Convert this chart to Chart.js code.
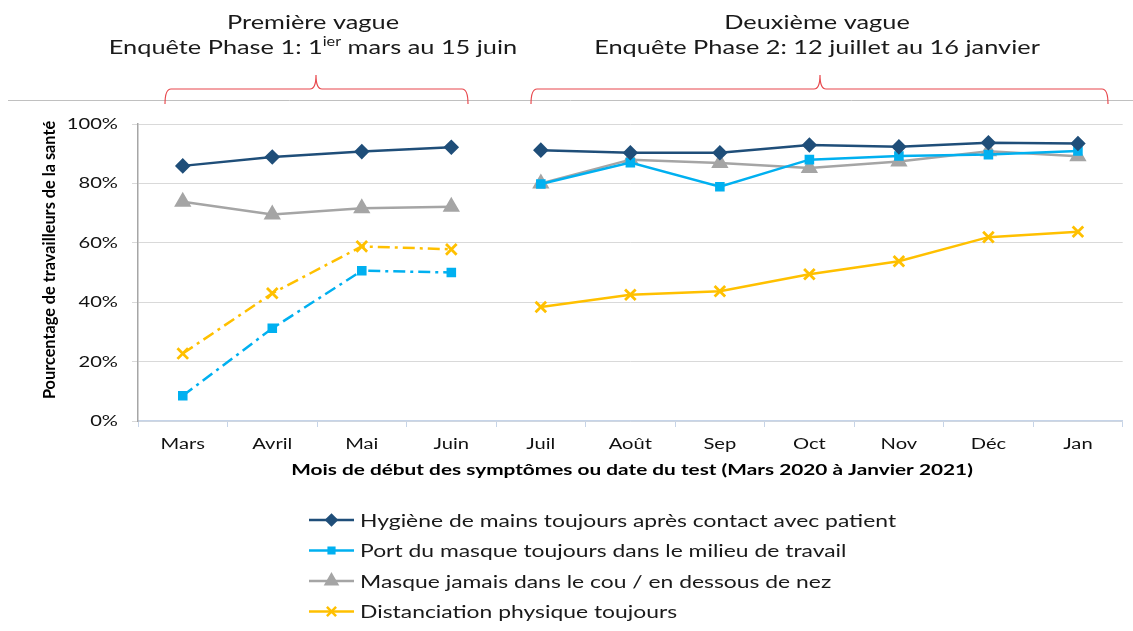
<!DOCTYPE html>
<html>
<head>
<meta charset="utf-8">
<script src="https://cdn.jsdelivr.net/npm/chart.js@4.4.1/dist/chart.umd.min.js"></script>
<style>
  html, body { margin: 0; padding: 0; background: #fff; }
  #wrap { width: 1133px; height: 631px; }
</style>
</head>
<body>
<div id="wrap"><canvas id="chart" width="1133" height="631"></canvas></div>
<script>
// Mois (mars 2020 a janvier 2021)
const months = ['Mars', 'Avril', 'Mai', 'Juin', 'Juil', 'Août', 'Sep', 'Oct', 'Nov', 'Déc', 'Jan'];

// Valeurs en %
const hygiene = [85.9, 88.9, 90.7, 92.2, 91.2, 90.3, 90.3, 92.9, 92.3, 93.7, 93.4];
const masqueTravail = [8.5, 31.2, 50.6, 50.0, 79.8, 87.0, 78.9, 88.0, 89.2, 89.7, 90.9];
const masqueCou = [73.8, 69.5, 71.6, 72.1, 80.0, 88.0, 86.9, 85.2, 87.4, 90.8, 89.1];
const distanciation = [22.7, 43.0, 58.8, 57.8, 38.4, 42.5, 43.7, 49.4, 53.8, 61.9, 63.7];

const seriesLabels = [
    'Hygiène de mains toujours après contact avec patient',
    'Port du masque toujours dans le milieu de travail',
    'Masque jamais dans le cou / en dessous de nez',
    'Distanciation physique toujours'
];
const yTicks = [0, 20, 40, 60, 80, 100];

const LAST_PHASE1 = 3; // index de Juin
const FONT = 'Lato, "Open Sans", sans-serif';
const SX = 1.3; // le texte de l'original est étiré en largeur
const DASH_DOT = [12, 5, 3, 5];

// segment: pas de ligne entre Juin et Juil, tirets en phase 1 si demandé
function segStyle(dashedPhase1) {
    return {
        borderColor: ctx => ctx.p0DataIndex === LAST_PHASE1 ? 'rgba(0,0,0,0)' : undefined,
        borderDash: ctx => (dashedPhase1 && ctx.p0DataIndex < LAST_PHASE1) ? DASH_DOT : undefined
    };
}

const datasets = [
    { label: seriesLabels[0], data: hygiene, borderColor: '#1F4E79', backgroundColor: '#1F4E79',
      pointStyle: 'rectRot', pointRadius: 6, borderWidth: 2.5, segment: segStyle(false) },
    { label: seriesLabels[1], data: masqueTravail, borderColor: '#00B0F0', backgroundColor: '#00B0F0',
      pointStyle: 'rect', pointRadius: 5, borderWidth: 2.5, segment: segStyle(true) },
    { label: seriesLabels[2], data: masqueCou, borderColor: '#A5A5A5', backgroundColor: '#A5A5A5',
      pointStyle: 'triangle', pointRadius: 7.5, borderWidth: 2.5, segment: segStyle(false) },
    { label: seriesLabels[3], data: distanciation, borderColor: '#FFC000', backgroundColor: '#FFC000',
      pointStyle: 'crossRot', pointRadius: 7.5, pointBorderWidth: 2.8, borderWidth: 2.5, segment: segStyle(true) }
];

// texte étiré horizontalement
function wideText(ctx, text, x, y, align) {
    const w = ctx.measureText(text).width * SX;
    let left = x;
    if (align === 'center') left = x - w / 2;
    else if (align === 'right') left = x - w;
    ctx.save();
    ctx.textAlign = 'left';
    ctx.translate(left, y);
    ctx.scale(SX, 1);
    ctx.fillText(text, 0, 0);
    ctx.restore();
    return w;
}

function drawBrace(ctx, x1, x2, tipX, yEnd, yMid, yTip) {
    const r = 6;
    ctx.beginPath();
    ctx.moveTo(x1, yEnd);
    ctx.quadraticCurveTo(x1, yMid, x1 + r, yMid);
    ctx.lineTo(tipX - r, yMid);
    ctx.quadraticCurveTo(tipX, yMid, tipX, yTip);
    ctx.quadraticCurveTo(tipX, yMid, tipX + r, yMid);
    ctx.lineTo(x2 - r, yMid);
    ctx.quadraticCurveTo(x2, yMid, x2, yEnd);
    ctx.stroke();
}

function drawPhaseTitle(ctx, cx, line1, before, sup, after) {
    const big = '19.5px ' + FONT, small = '12.5px ' + FONT;
    ctx.fillStyle = '#1a1a1a';
    ctx.textBaseline = 'alphabetic';
    ctx.font = big;
    wideText(ctx, line1, cx, 29, 'center');
    const wB = ctx.measureText(before).width * SX;
    const wA = ctx.measureText(after).width * SX;
    ctx.font = small;
    const wS = sup ? ctx.measureText(sup).width * SX : 0;
    let x = cx - (wB + wS + wA) / 2;
    ctx.font = big;
    x += wideText(ctx, before, x, 54, 'left');
    if (sup) {
        ctx.font = small;
        x += wideText(ctx, sup, x, 46, 'left');
    }
    ctx.font = big;
    wideText(ctx, after, x, 54, 'left');
}

const decorPlugin = {
    id: 'decor',
    afterDraw(chart) {
        const ctx = chart.ctx;
        const xs = chart.scales.x, ys = chart.scales.y;
        ctx.save();

        // titres des deux vagues
        drawPhaseTitle(ctx, 313, 'Première vague', 'Enquête Phase 1: 1', 'ier', ' mars au 15 juin');
        drawPhaseTitle(ctx, 817, 'Deuxième vague', 'Enquête Phase 2: 12 juillet au 16 janvier', '', '');

        // ligne grise
        ctx.strokeStyle = '#C0C0C0';
        ctx.lineWidth = 1;
        ctx.beginPath();
        ctx.moveTo(8, 100.5);
        ctx.lineTo(1133, 100.5);
        ctx.stroke();

        // accolades rouges
        ctx.strokeStyle = '#E8474C';
        ctx.lineWidth = 1.2;
        drawBrace(ctx, 165, 468, 316, 104, 89, 75);
        drawBrace(ctx, 531, 1108, 820, 104, 89, 75);

        // étiquettes des axes
        ctx.fillStyle = '#111';
        ctx.textBaseline = 'middle';
        ctx.font = '15.5px ' + FONT;
        xs.ticks.forEach((t, i) => {
            wideText(ctx, xs.getLabelForValue(t.value), xs.getPixelForTick(i), 444, 'center');
        });
        ys.ticks.forEach(t => {
            wideText(ctx, t.value + '%', 118, ys.getPixelForValue(t.value), 'right');
        });

        // titres des axes
        ctx.fillStyle = '#000';
        ctx.font = 'bold 16.3px ' + FONT;
        ctx.textAlign = 'center';
        ctx.save();
        ctx.translate(50, 260);
        ctx.rotate(-Math.PI / 2);
        ctx.fillText('Pourcentage de travailleurs de la santé', 0, 0);
        ctx.restore();
        ctx.font = 'bold 16px ' + FONT;
        wideText(ctx, 'Mois de début des symptômes ou date du test (Mars 2020 à Janvier 2021)', 632, 470, 'center');

        // légende
        ctx.font = '17.6px ' + FONT;
        chart.data.datasets.forEach((ds, i) => {
            const y = 520 + i * 30.5;
            ctx.strokeStyle = ds.borderColor;
            ctx.fillStyle = ds.backgroundColor;
            ctx.lineWidth = 2.5;
            ctx.setLineDash([]);
            ctx.beginPath();
            ctx.moveTo(309, y);
            ctx.lineTo(354, y);
            ctx.stroke();
            Chart.helpers.drawPoint(ctx, {
                pointStyle: ds.pointStyle,
                radius: ds.pointRadius - 1,
                rotation: 0,
                borderWidth: ds.pointBorderWidth || 1
            }, 331.5, y);
            ctx.fillStyle = '#1a1a1a';
            wideText(ctx, ds.label, 360, y + 1, 'left');
        });

        ctx.restore();
    }
};

new Chart(document.getElementById('chart'), {
    type: 'line',
    data: { labels: months, datasets: datasets },
    options: {
        responsive: false,
        devicePixelRatio: 1,
        animation: false,
        layout: { padding: { left: 8, right: 10, top: 124, bottom: 180 } },
        plugins: {
            legend: { display: false },
            tooltip: { enabled: false }
        },
        elements: {
            line: { tension: 0 },
            point: { borderWidth: 1 }
        },
        scales: {
            x: {
                type: 'category',
                offset: true,
                grid: { offset: true, drawOnChartArea: false, drawTicks: true, tickLength: 6, color: '#C6D4E8' },
                border: { color: '#C6D4E8', width: 1.5 },
                ticks: { display: false },
                afterFit: scale => { scale.height = 30; }
            },
            y: {
                min: 0,
                max: 100,
                afterBuildTicks: scale => { scale.ticks = yTicks.map(v => ({ value: v })); },
                ticks: { display: false },
                grid: { color: '#D9D9D9', tickLength: 6 },
                border: { color: '#A6A6A6', width: 1.5 },
                afterFit: scale => { scale.width = 130; }
            }
        }
    },
    plugins: [decorPlugin]
});
</script>
</body>
</html>
